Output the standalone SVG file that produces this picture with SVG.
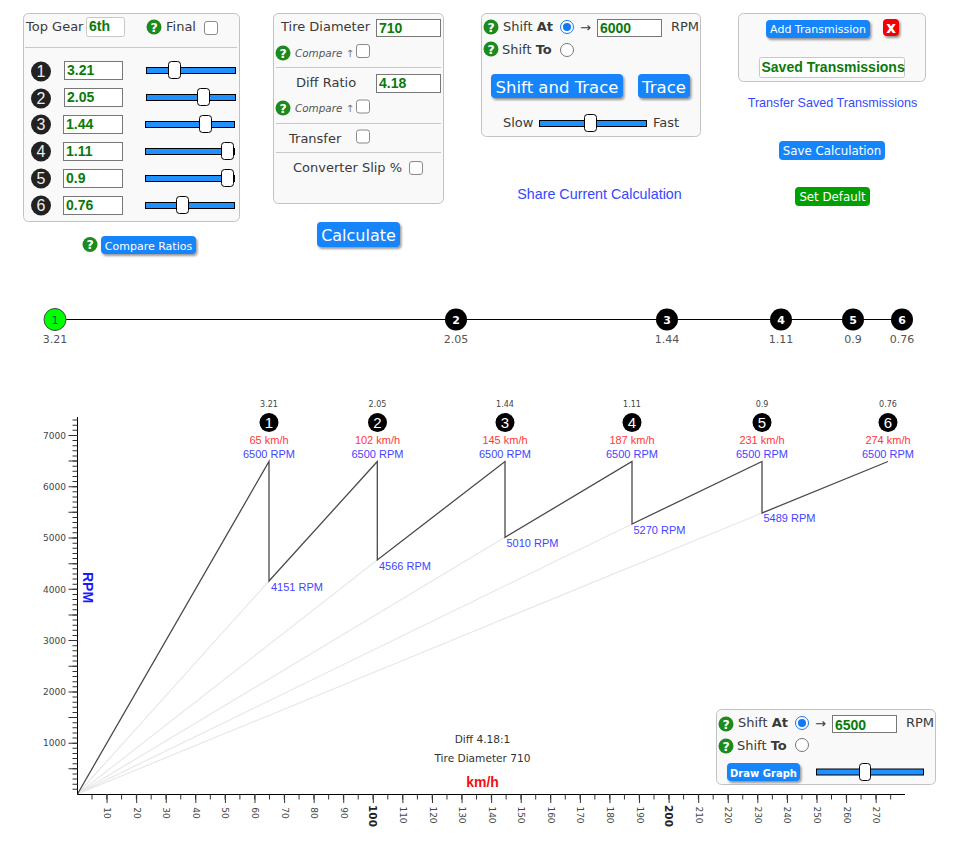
<svg xmlns="http://www.w3.org/2000/svg" width="954" height="858" viewBox="0 0 954 858">
<style>
text{font-family:"DejaVu Sans",sans-serif;fill:#3a3a3a;font-size:13px}
.panel{fill:#f9f9f9;stroke:#c2c2c2;stroke-width:1}
.div{stroke:#c8c8c8;stroke-width:1}
.inp{fill:#fff;stroke:#777;stroke-width:1}
.inpl{fill:#fff;stroke:#c8c8c8;stroke-width:1;rx:2px}
.val{font-family:"Liberation Sans",Arial,sans-serif;font-weight:bold;font-size:14px;fill:#0a7a0a}
.cb{fill:#fff;stroke:#8a8a8a;stroke-width:1;rx:2.5px}
.track{fill:#1e90ff;stroke:#000;stroke-width:1}
.thumb{fill:#fff;stroke:#000;stroke-width:1;rx:3px}
.btn{fill:#1485fb;rx:4px;filter:url(#sh)}
.btn2{fill:#1485fb;rx:4px}
.bt{fill:#fff;text-anchor:middle}
.cmp{font-style:italic;font-size:10.4px;fill:#555}
.cmp tspan{font-family:"DejaVu Sans",sans-serif;font-style:normal;font-size:10px;fill:#777}
.link{font-family:"Liberation Sans",Arial,sans-serif;fill:#3448ff;text-anchor:middle}
.gc{fill:#222}
.gd{font-family:"Liberation Sans",sans-serif;fill:#eee;text-anchor:middle;font-size:16px}
.cc{fill:#000}
.cd{font-family:"Liberation Sans",sans-serif;fill:#fff;text-anchor:middle;font-size:15px}
.rn{fill:#fff;font-size:11px;font-weight:bold;text-anchor:middle}
.rl{fill:#555;font-size:11px;text-anchor:middle}
.c{font-family:"Liberation Sans",Arial,sans-serif;font-size:11px;text-anchor:middle}
.note{font-size:10.6px;fill:#333;text-anchor:middle}
.red{fill:#ff3838}
.blue{fill:#4444ff}
.dark{stroke:#4a4a4a;stroke-width:1.3;fill:none}
.light{stroke:#e8e8e8;stroke-width:1.2;fill:none}
.ax{stroke:#000;stroke-width:1;fill:none}
.xl{font-size:9px;fill:#444;text-anchor:middle;dominant-baseline:central}
.yl{font-size:9px;fill:#444;text-anchor:end}
.sm{font-size:8px;fill:#444;text-anchor:middle}
</style>
<defs>
<filter id="sh" x="-10%" y="-10%" width="125%" height="140%"><feDropShadow dx="1.5" dy="2" stdDeviation="1.2" flood-color="#000" flood-opacity="0.4"/></filter>
<g id="help"><circle r="7.5" fill="#1c8a1c"/><text y="4.5" text-anchor="middle" style="fill:#fff;font-weight:bold;font-size:12.5px">?</text></g>
<g id="radioOn"><circle r="6.5" fill="#fff" stroke="#1479f0"/><circle r="4" fill="#1479f0"/></g>
<circle id="radioOff" r="6.5" fill="#fff" stroke="#777"/>
</defs>
<rect width="954" height="858" fill="#fff"/>

<g id="gear-panel">
<rect class="panel" x="23.5" y="13.5" width="216" height="208" rx="5"/>
<line class="div" x1="25" y1="47.5" x2="237" y2="47.5"/>
<text x="26" y="31">Top Gear</text>
<rect class="inpl" x="86.5" y="17.5" width="38" height="19"/>
<text class="val" x="89" y="31">6th</text>
<use href="#help" x="154" y="27"/>
<text x="166" y="31">Final</text>
<rect class="cb" x="204.5" y="21.5" width="13" height="13"/>
<circle class="gc" cx="41" cy="71.5" r="10"/><text class="gd" x="41" y="77">1</text><rect class="inp" x="64.5" y="61.5" width="58" height="18"/><text class="val" x="67" y="75">3.21</text><rect class="track" x="146.5" y="67.5" width="89" height="6"/><rect class="thumb" x="168.5" y="61.5" width="12" height="17"/>
<circle class="gc" cx="41" cy="98.5" r="10"/><text class="gd" x="41" y="104">2</text><rect class="inp" x="64.5" y="88.5" width="58" height="18"/><text class="val" x="67" y="102">2.05</text><rect class="track" x="146.5" y="94.5" width="89" height="6"/><rect class="thumb" x="197.5" y="88.5" width="12" height="17"/>
<circle class="gc" cx="41" cy="124.5" r="10"/><text class="gd" x="41" y="130">3</text><rect class="inp" x="63.5" y="115.5" width="59" height="18"/><text class="val" x="66" y="129">1.44</text><rect class="track" x="145.5" y="121.5" width="89" height="6"/><rect class="thumb" x="199.5" y="115.5" width="12" height="17"/>
<circle class="gc" cx="41" cy="151.5" r="10"/><text class="gd" x="41" y="157">4</text><rect class="inp" x="63.5" y="142.5" width="59" height="18"/><text class="val" x="66" y="156">1.11</text><rect class="track" x="145.5" y="148.5" width="89" height="6"/><rect class="thumb" x="221.5" y="142.5" width="12" height="17"/>
<circle class="gc" cx="41" cy="178.5" r="10"/><text class="gd" x="41" y="184">5</text><rect class="inp" x="63.5" y="169.5" width="59" height="18"/><text class="val" x="66" y="183">0.9</text><rect class="track" x="145.5" y="175.5" width="89" height="6"/><rect class="thumb" x="221.5" y="169.5" width="12" height="17"/>
<circle class="gc" cx="41" cy="205.5" r="10"/><text class="gd" x="41" y="211">6</text><rect class="inp" x="63.5" y="196.5" width="59" height="18"/><text class="val" x="66" y="210">0.76</text><rect class="track" x="145.5" y="202.5" width="89" height="6"/><rect class="thumb" x="176.5" y="196.5" width="12" height="17"/>
</g>
<g id="compare-ratios">
<use href="#help" x="90" y="244.5"/>
<rect class="btn" x="101" y="236" width="95" height="18"/>
<text class="bt" x="148.5" y="250" style="font-size:11px">Compare Ratios</text>
</g>

<g id="tire-panel">
<rect class="panel" x="273.5" y="13.5" width="170" height="190" rx="5"/>
<text x="281" y="31">Tire Diameter</text>
<rect class="inp" x="376.5" y="19.5" width="64" height="17"/><text class="val" x="379" y="33">710</text>
<use href="#help" x="283" y="53"/><text class="cmp" x="295" y="57">Compare <tspan>↑</tspan></text>
<rect class="cb" x="356.5" y="44.5" width="13" height="13"/>
<line class="div" x1="276" y1="67.5" x2="441" y2="67.5"/>
<text x="296" y="87">Diff Ratio</text>
<rect class="inp" x="376.5" y="74.5" width="64" height="18"/><text class="val" x="379" y="88">4.18</text>
<use href="#help" x="283" y="108"/><text class="cmp" x="295" y="112">Compare <tspan>↑</tspan></text>
<rect class="cb" x="356.5" y="100" width="13" height="13"/>
<line class="div" x1="276" y1="123.5" x2="441" y2="123.5"/>
<text x="289" y="143">Transfer</text>
<rect class="cb" x="356.5" y="130" width="13" height="13"/>
<line class="div" x1="276" y1="152.5" x2="441" y2="152.5"/>
<text x="293" y="172">Converter Slip %</text>
<rect class="cb" x="409.5" y="161.5" width="13" height="13"/>
</g>
<g id="calculate">
<rect class="btn" x="317" y="222" width="83" height="25"/>
<text class="bt" x="358.5" y="241" style="font-size:16px">Calculate</text>
</g>

<g id="shift-panel">
<rect class="panel" x="481.5" y="13.5" width="219" height="123" rx="5"/>
<use href="#help" x="491" y="27"/><text x="503" y="31">Shift <tspan font-weight="bold">At</tspan></text>
<use href="#radioOn" x="567" y="27"/><text x="580" y="32">→</text>
<rect class="inp" x="597.5" y="19.5" width="64" height="17"/><text class="val" x="600" y="33">6000</text>
<text x="671" y="31">RPM</text>
<use href="#help" x="491" y="49"/><text x="502" y="54">Shift <tspan font-weight="bold">To</tspan></text>
<use href="#radioOff" x="567" y="50"/>
<rect class="btn" x="491" y="74" width="132" height="24"/><text class="bt" x="557" y="93" style="font-size:16.5px">Shift and Trace</text>
<rect class="btn" x="638" y="74" width="52" height="24"/><text class="bt" x="664" y="93" style="font-size:16.5px">Trace</text>
<text x="503" y="127">Slow</text>
<rect class="track" x="539.5" y="120.5" width="107" height="6"/><rect class="thumb" x="584.5" y="114.5" width="12" height="17"/>
<text x="653" y="127">Fast</text>
</g>
<g id="share"><text class="link" x="599.5" y="199" style="font-size:14.3px">Share Current Calculation</text></g>

<g id="saved-panel">
<rect class="panel" x="738.5" y="13.5" width="187" height="68" rx="5"/>
<rect class="btn" x="766" y="20" width="104" height="18"/><text class="bt" x="818" y="33" style="font-size:11px">Add Transmission</text>
<rect class="btn" x="883" y="19" width="16" height="17" style="fill:#f40000"/><text class="bt" x="891" y="32.5" style="font-weight:bold;font-size:15px">x</text>
<rect class="inpl" x="759.5" y="57.5" width="145" height="20"/><text class="val" x="761.5" y="72">Saved Transmissions</text>
</g>
<g id="transfer"><text class="link" x="832.5" y="107" style="font-size:12.6px">Transfer Saved Transmissions</text></g>
<g id="save-calc"><rect class="btn2" x="779" y="141" width="106" height="19"/><text class="bt" x="832" y="155" style="font-size:11.8px">Save Calculation</text></g>
<g id="set-default"><rect class="btn2" x="795" y="187" width="75" height="19" style="fill:#00a000"/><text class="bt" x="832.5" y="201" style="font-size:11.8px">Set Default</text></g>

<g id="ratio-line">
<line class="ax" x1="55" y1="319.5" x2="902" y2="319.5"/>
<g id="r1"><circle cx="55" cy="319.5" r="11" fill="#0f0" stroke="#444"/><text class="rn" x="55" y="323.5" style="fill:#155;font-weight:normal">1</text><text class="rl" x="55" y="343">3.21</text></g>
<g id="r2"><circle cx="456" cy="319.5" r="11" fill="#000"/><text class="rn" x="456" y="323.5">2</text><text class="rl" x="456" y="343">2.05</text></g>
<g id="r3"><circle cx="667" cy="319.5" r="11" fill="#000"/><text class="rn" x="667" y="323.5">3</text><text class="rl" x="667" y="343">1.44</text></g>
<g id="r4"><circle cx="781" cy="319.5" r="11" fill="#000"/><text class="rn" x="781" y="323.5">4</text><text class="rl" x="781" y="343">1.11</text></g>
<g id="r5"><circle cx="853" cy="319.5" r="11" fill="#000"/><text class="rn" x="853" y="323.5">5</text><text class="rl" x="853" y="343">0.9</text></g>
<g id="r6"><circle cx="902" cy="319.5" r="11" fill="#000"/><text class="rn" x="902" y="323.5">6</text><text class="rl" x="902" y="343">0.76</text></g>
</g>

<g id="connectors">
<path class="light" d="M77.5 794L269 581M77.5 794L377.3 560M77.5 794L505 537.3M77.5 794L632 524M77.5 794L762 513"/>
<path class="dark" d="M77.5 794L269 461.5V581L377.3 461.5V560L505 461.5V537.3L632 461.5V524L762 461.5V513L888 461.5"/>
</g>

<g id="axes">
<path class="ax" d="M77.5 417V794.5H905"/>
<line x1="75" x2="75" y1="789.87" y2="418" stroke="#333" stroke-width="5" stroke-dasharray="1 4.13"/>
<line x1="73" x2="73" y1="769.35" y2="420" stroke="#333" stroke-width="9" stroke-dasharray="1 24.65"/>
<line x1="91.5" x2="900" y1="797" y2="797" stroke="#333" stroke-width="5" stroke-dasharray="1 13.79"/>
<line x1="106.6" x2="880" y1="798.5" y2="798.5" stroke="#333" stroke-width="9" stroke-dasharray="1 28.58"/>
<text class="yl" x="66" y="746">1000</text><text class="yl" x="66" y="695">2000</text><text class="yl" x="66" y="643.5">3000</text><text class="yl" x="66" y="592.5">4000</text><text class="yl" x="66" y="541">5000</text><text class="yl" x="66" y="490">6000</text><text class="yl" x="66" y="438.5">7000</text>
<text x="88" y="587.5" transform="rotate(90 88 587.5)" text-anchor="middle" dominant-baseline="central" style="font-family:'Liberation Sans',Arial,sans-serif;font-weight:bold;font-size:14px;fill:#1a1aff">RPM</text>
<text x="482.5" y="787" text-anchor="middle" style="font-family:'Liberation Sans',Arial,sans-serif;font-weight:bold;font-size:14px;fill:#f01010">km/h</text>
<text class="xl" transform="translate(107.1 813) rotate(90)">10</text><text class="xl" transform="translate(136.7 813) rotate(90)">20</text><text class="xl" transform="translate(166.2 813) rotate(90)">30</text><text class="xl" transform="translate(195.8 813) rotate(90)">40</text><text class="xl" transform="translate(225.4 813) rotate(90)">50</text><text class="xl" transform="translate(255 813) rotate(90)">60</text><text class="xl" transform="translate(284.6 813) rotate(90)">70</text><text class="xl" transform="translate(314.1 813) rotate(90)">80</text><text class="xl" transform="translate(343.7 813) rotate(90)">90</text>
<text class="xl" transform="translate(373.3 816) rotate(90)" style="font-size:10.5px;font-weight:bold;fill:#222">100</text>
<text class="xl" transform="translate(402.9 815) rotate(90)">110</text><text class="xl" transform="translate(432.5 815) rotate(90)">120</text><text class="xl" transform="translate(462 815) rotate(90)">130</text><text class="xl" transform="translate(491.6 815) rotate(90)">140</text><text class="xl" transform="translate(521.2 815) rotate(90)">150</text><text class="xl" transform="translate(550.8 815) rotate(90)">160</text><text class="xl" transform="translate(580.4 815) rotate(90)">170</text><text class="xl" transform="translate(609.9 815) rotate(90)">180</text><text class="xl" transform="translate(639.5 815) rotate(90)">190</text>
<text class="xl" transform="translate(669.1 816) rotate(90)" style="font-size:10.5px;font-weight:bold;fill:#222">200</text>
<text class="xl" transform="translate(698.7 815) rotate(90)">210</text><text class="xl" transform="translate(728.3 815) rotate(90)">220</text><text class="xl" transform="translate(757.8 815) rotate(90)">230</text><text class="xl" transform="translate(787.4 815) rotate(90)">240</text><text class="xl" transform="translate(817 815) rotate(90)">250</text><text class="xl" transform="translate(846.6 815) rotate(90)">260</text><text class="xl" transform="translate(876.2 815) rotate(90)">270</text>
</g>

<g id="g1"><text class="sm" x="269" y="407">3.21</text><circle class="cc" cx="269" cy="422.5" r="9.5"/><text class="cd" x="269" y="428">1</text><text class="c red" x="269" y="444">65 km/h</text><text class="c blue" x="269" y="458">6500 RPM</text><text class="c blue" x="297" y="591">4151 RPM</text></g>
<g id="g2"><text class="sm" x="377.5" y="407">2.05</text><circle class="cc" cx="377.5" cy="422.5" r="9.5"/><text class="cd" x="377.5" y="428">2</text><text class="c red" x="377.5" y="444">102 km/h</text><text class="c blue" x="377.5" y="458">6500 RPM</text><text class="c blue" x="405" y="570">4566 RPM</text></g>
<g id="g3"><text class="sm" x="505" y="407">1.44</text><circle class="cc" cx="505" cy="422.5" r="9.5"/><text class="cd" x="505" y="428">3</text><text class="c red" x="505" y="444">145 km/h</text><text class="c blue" x="505" y="458">6500 RPM</text><text class="c blue" x="532.5" y="547">5010 RPM</text></g>
<g id="g4"><text class="sm" x="632" y="407">1.11</text><circle class="cc" cx="632" cy="422.5" r="9.5"/><text class="cd" x="632" y="428">4</text><text class="c red" x="632" y="444">187 km/h</text><text class="c blue" x="632" y="458">6500 RPM</text><text class="c blue" x="659.5" y="534">5270 RPM</text></g>
<g id="g5"><text class="sm" x="762" y="407">0.9</text><circle class="cc" cx="762" cy="422.5" r="9.5"/><text class="cd" x="762" y="428">5</text><text class="c red" x="762" y="444">231 km/h</text><text class="c blue" x="762" y="458">6500 RPM</text><text class="c blue" x="789.5" y="522">5489 RPM</text></g>
<g id="g6"><text class="sm" x="888" y="407">0.76</text><circle class="cc" cx="888" cy="422.5" r="9.5"/><text class="cd" x="888" y="428">6</text><text class="c red" x="888" y="444">274 km/h</text><text class="c blue" x="888" y="458">6500 RPM</text></g>

<g id="chart-note"><text class="note" x="482.5" y="743">Diff 4.18:1</text><text class="note" x="482.5" y="762">Tire Diameter 710</text></g>

<g id="graph-panel">
<rect class="panel" x="716.5" y="709.5" width="219" height="75" rx="5"/>
<use href="#help" x="726" y="724"/><text x="738" y="727">Shift <tspan font-weight="bold">At</tspan></text>
<use href="#radioOn" x="802" y="723"/><text x="815" y="728">→</text>
<rect class="inp" x="832.5" y="715.5" width="64" height="17"/><text class="val" x="835" y="730">6500</text>
<text x="906" y="727">RPM</text>
<use href="#help" x="726" y="746"/><text x="737" y="750">Shift <tspan font-weight="bold">To</tspan></text>
<use href="#radioOff" x="802" y="745"/>
<rect class="btn" x="727" y="763" width="73" height="18"/><text class="bt" x="763.5" y="776.5" style="font-size:10px;font-weight:bold">Draw Graph</text>
<rect class="track" x="816.5" y="769" width="107" height="6"/><rect class="thumb" x="859.5" y="763.5" width="11" height="17"/>
</g>
</svg>
